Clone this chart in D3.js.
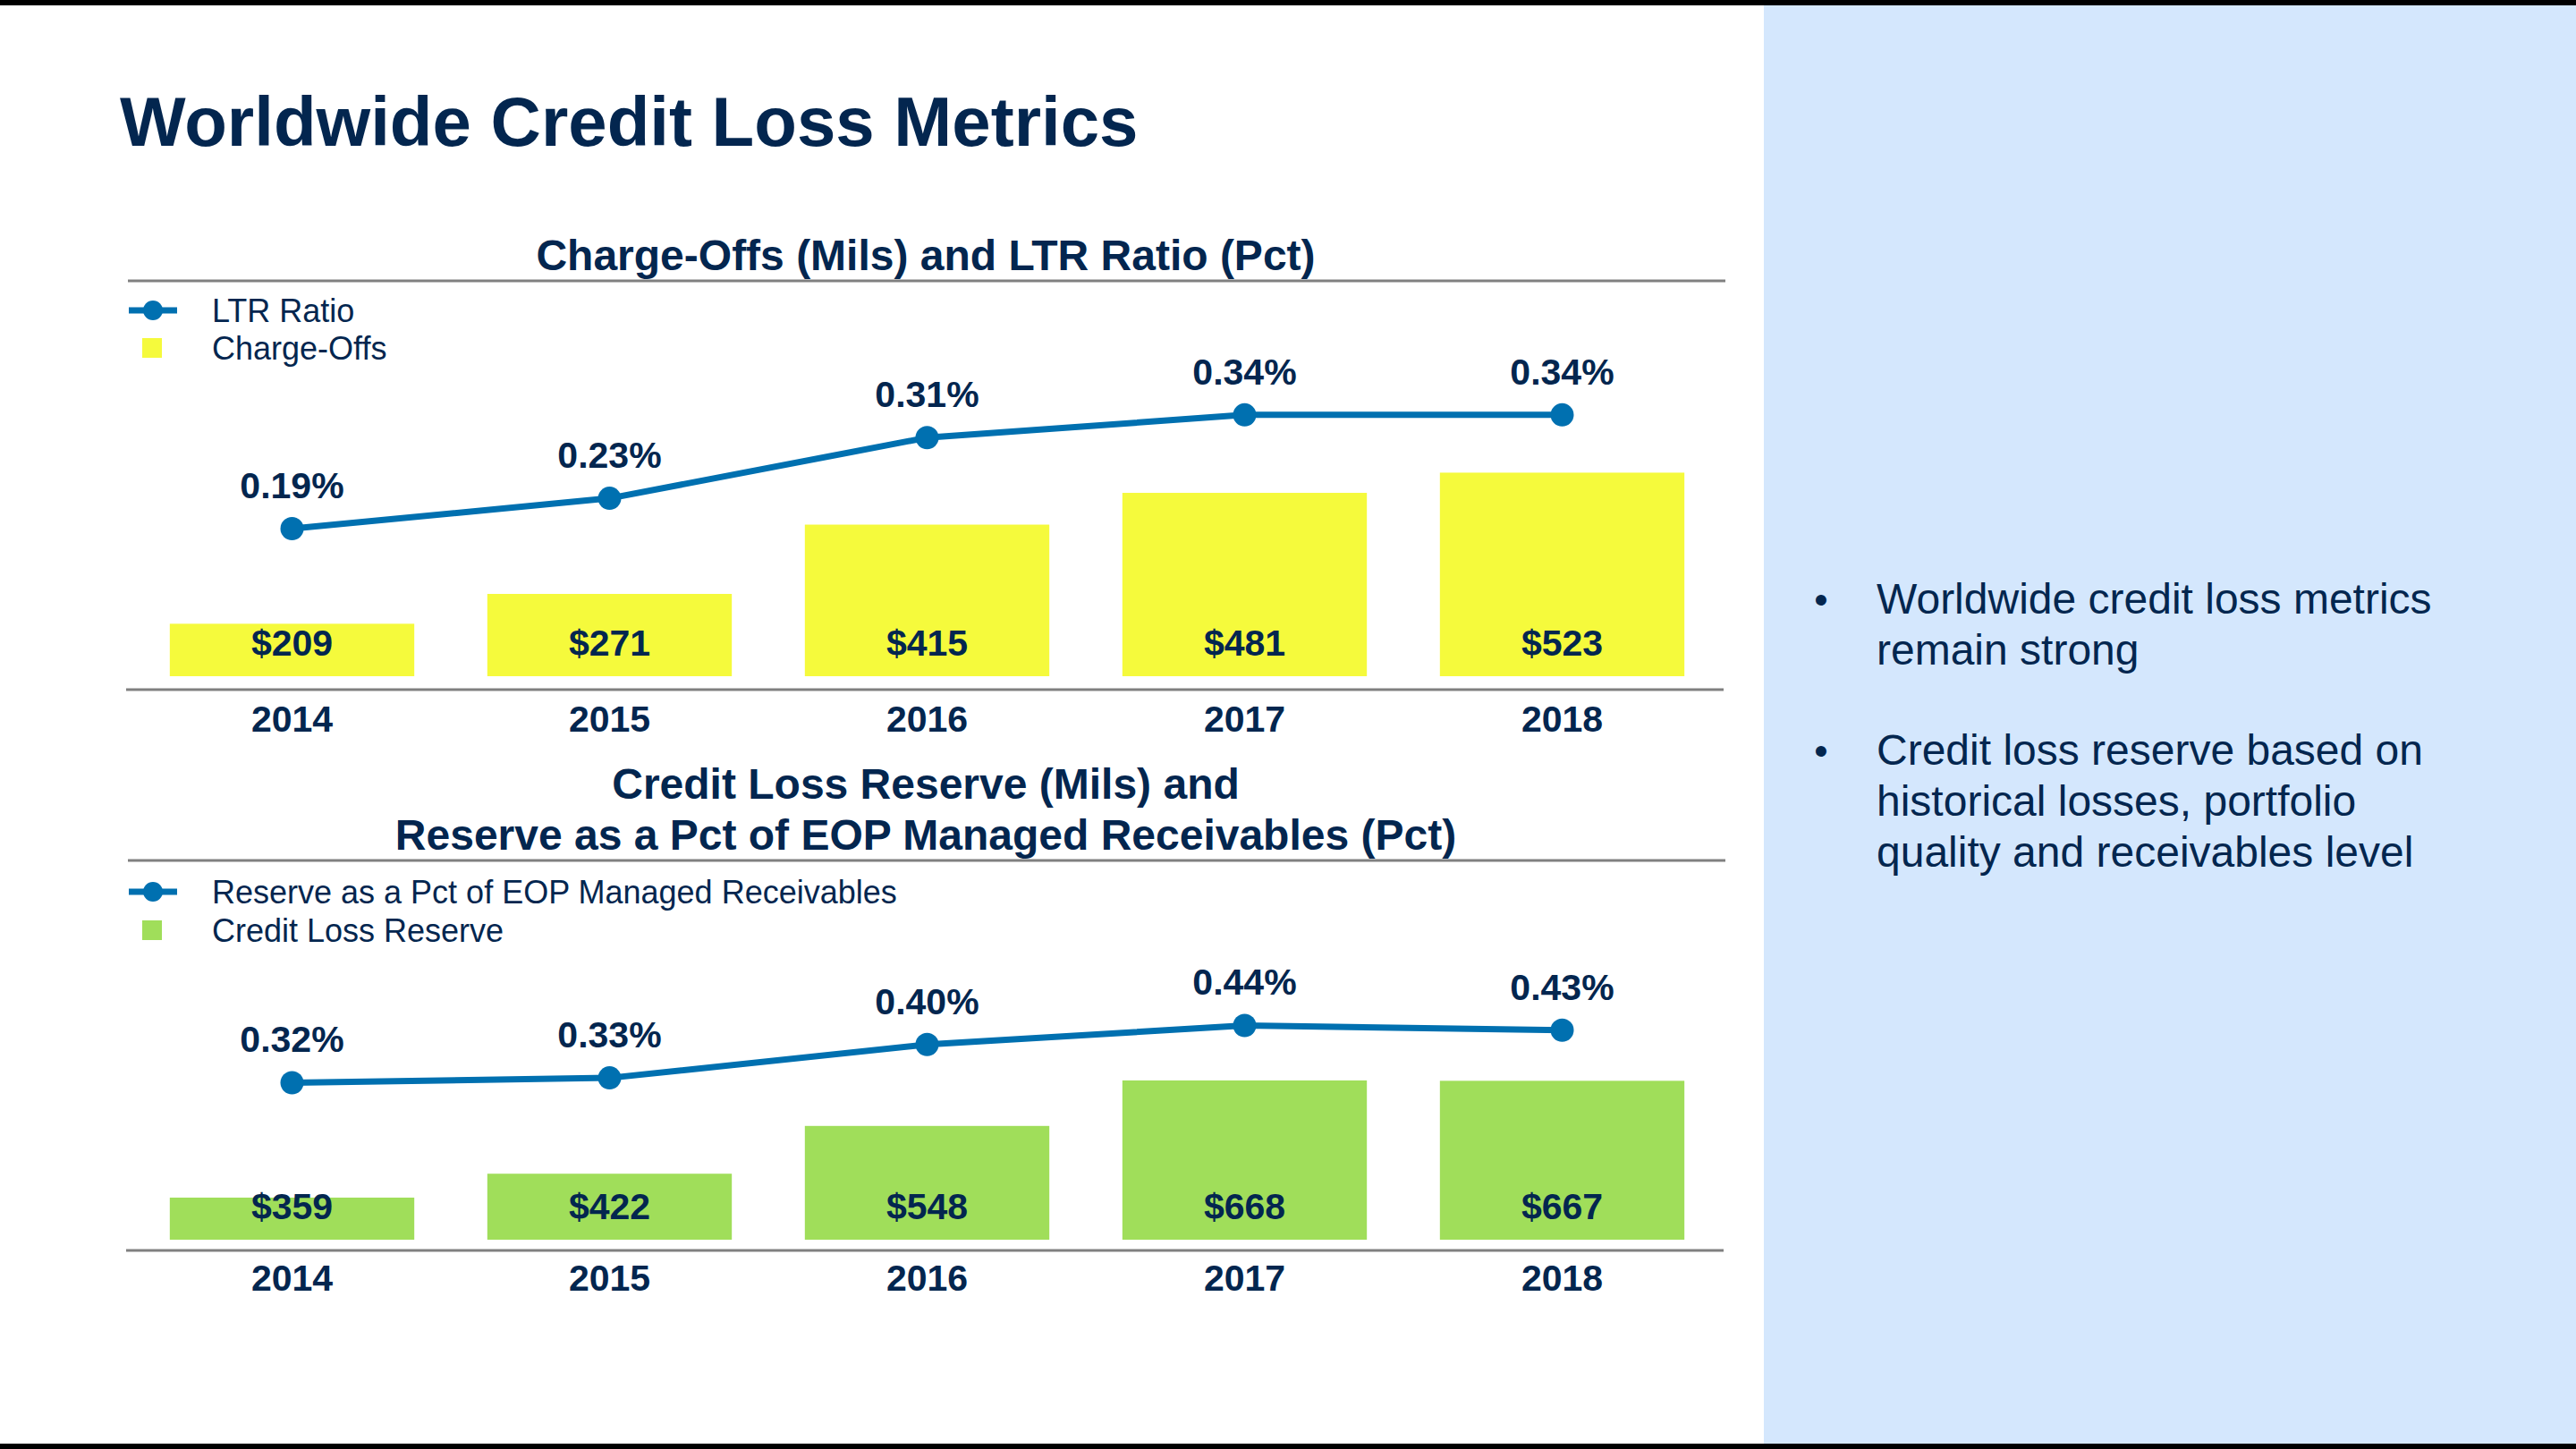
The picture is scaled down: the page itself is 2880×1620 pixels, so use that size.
<!DOCTYPE html>
<html>
<head>
<meta charset="utf-8">
<script src="https://cdn.jsdelivr.net/npm/d3@7"></script>
<style>
  html, body { margin: 0; padding: 0; background: #ffffff; }
  svg { display: block; }
  text { font-family: "Liberation Sans", Arial, Helvetica, sans-serif; }
</style>
</head>
<body>
<svg id="chart" width="2880" height="1620"></svg>
<script>
// ---------- DATA ----------
const years = ["2014", "2015", "2016", "2017", "2018"];
const chargeOffs = [209, 271, 415, 481, 523];
const ltrRatio = [0.19, 0.23, 0.31, 0.34, 0.34];
const reserve = [359, 422, 548, 668, 667];
const reservePct = [0.32, 0.33, 0.40, 0.44, 0.43];

const mainTitle = "Worldwide Credit Loss Metrics";
const chart1Title = ["Charge-Offs (Mils) and LTR Ratio (Pct)"];
const chart2Title = ["Credit Loss Reserve (Mils) and", "Reserve as a Pct of EOP Managed Receivables (Pct)"];
const chart1Legend = ["LTR Ratio", "Charge-Offs"];
const chart2Legend = ["Reserve as a Pct of EOP Managed Receivables", "Credit Loss Reserve"];
const bullets = [
  ["Worldwide credit loss metrics", "remain strong"],
  ["Credit loss reserve based on", "historical losses, portfolio", "quality and receivables level"]
];

// ---------- STYLE ----------
const NAVY = "#03264f";
const BLUE = "#0070b0";
const GRAY = "#808080";
const YELLOW = "#f5fa3c";
const GREEN = "#a0de5a";
const PANEL = "#d4e7fd";

const svg = d3.select("#chart");

// background + right panel + black bars
svg.append("rect").attr("x", 0).attr("y", 0).attr("width", 2880).attr("height", 1620).attr("fill", "#ffffff");
svg.append("rect").attr("x", 1972).attr("y", 0).attr("width", 908).attr("height", 1620).attr("fill", PANEL);
svg.append("rect").attr("x", 0).attr("y", 0).attr("width", 2880).attr("height", 6).attr("fill", "#000");
svg.append("rect").attr("x", 0).attr("y", 1614).attr("width", 2880).attr("height", 6).attr("fill", "#000");

// main title
svg.append("text")
  .attr("x", 134).attr("y", 163)
  .attr("font-size", 78).attr("font-weight", "bold").attr("fill", NAVY)
  .text(mainTitle);

// x band scale shared
const x = d3.scaleBand().domain(years).range([149, 1924]).paddingInner(0.23).paddingOuter(0.115);

function drawChart(cfg) {
  const g = svg.append("g");

  // title lines
  cfg.title.forEach((t, i) => {
    g.append("text")
      .attr("x", 1035).attr("y", cfg.titleBaselines[i])
      .attr("text-anchor", "middle")
      .attr("font-size", 48).attr("font-weight", "bold").attr("fill", NAVY)
      .text(t);
  });

  // separator line
  g.append("line")
    .attr("x1", 143).attr("x2", 1929)
    .attr("y1", cfg.sepY).attr("y2", cfg.sepY)
    .attr("stroke", GRAY).attr("stroke-width", 3);

  // legend
  const ly1 = cfg.legendY[0], ly2 = cfg.legendY[1];
  g.append("line").attr("x1", 144).attr("x2", 198).attr("y1", ly1).attr("y2", ly1)
    .attr("stroke", BLUE).attr("stroke-width", 7);
  g.append("circle").attr("cx", 171).attr("cy", ly1).attr("r", 11).attr("fill", BLUE);
  g.append("rect").attr("x", 159).attr("y", ly2 - 11).attr("width", 22).attr("height", 22).attr("fill", cfg.barColor);
  cfg.legend.forEach((t, i) => {
    g.append("text")
      .attr("x", 237).attr("y", cfg.legendY[i] + 12.5)
      .attr("font-size", 36).attr("fill", NAVY)
      .text(t);
  });

  // scales
  const yBar = d3.scaleLinear().domain(cfg.barDomain).range([cfg.barBase, cfg.barTop]);
  const yLine = d3.scaleLinear().domain(cfg.lineDomain).range(cfg.lineRange);

  const barData = years.map((yr, i) => ({ yr, v: cfg.bars[i] }));
  const lineData = years.map((yr, i) => ({ yr, v: cfg.line[i] }));

  g.selectAll(".bar").data(barData).enter().append("rect")
    .attr("x", d => x(d.yr))
    .attr("width", x.bandwidth())
    .attr("y", d => yBar(d.v))
    .attr("height", d => cfg.barBase - yBar(d.v))
    .attr("fill", cfg.barColor);

  g.selectAll(".barlabel").data(barData).enter().append("text")
    .attr("x", d => x(d.yr) + x.bandwidth() / 2)
    .attr("y", cfg.barBase - 23.5)
    .attr("text-anchor", "middle")
    .attr("font-size", 41).attr("font-weight", "bold").attr("fill", NAVY)
    .text(d => "$" + d.v);

  // axis line
  g.append("line")
    .attr("x1", 141).attr("x2", 1927)
    .attr("y1", cfg.axisY).attr("y2", cfg.axisY)
    .attr("stroke", GRAY).attr("stroke-width", 3);

  // year labels via d3 axis
  const axis = d3.axisBottom(x).tickSize(0).tickPadding(0);
  const ag = g.append("g").attr("transform", `translate(0,${cfg.axisY})`).call(axis);
  ag.select(".domain").remove();
  ag.selectAll("text")
    .attr("y", cfg.yearOffset).attr("dy", null)
    .attr("font-size", 41).attr("font-weight", "bold").attr("fill", NAVY)
    .attr("font-family", "'Liberation Sans', Arial, sans-serif");

  // line
  const line = d3.line().x(d => x(d.yr) + x.bandwidth() / 2).y(d => yLine(d.v));
  g.append("path").datum(lineData)
    .attr("d", line).attr("fill", "none")
    .attr("stroke", BLUE).attr("stroke-width", 7).attr("stroke-linejoin", "round");
  g.selectAll(".dot").data(lineData).enter().append("circle")
    .attr("cx", d => x(d.yr) + x.bandwidth() / 2)
    .attr("cy", d => yLine(d.v))
    .attr("r", 13).attr("fill", BLUE);
  g.selectAll(".linelabel").data(lineData).enter().append("text")
    .attr("x", d => x(d.yr) + x.bandwidth() / 2)
    .attr("y", d => yLine(d.v) - 34)
    .attr("text-anchor", "middle")
    .attr("font-size", 41).attr("font-weight", "bold").attr("fill", NAVY)
    .text(d => d3.format(".2f")(d.v) + "%");
}

drawChart({
  title: chart1Title, titleBaselines: [302],
  sepY: 314, legend: chart1Legend, legendY: [347, 389],
  bars: chargeOffs, barColor: YELLOW,
  barDomain: [100, 600], barBase: 756, barTop: 487,
  line: ltrRatio, lineDomain: [0, 0.4], lineRange: [752, 413],
  axisY: 771, yearOffset: 47
});

drawChart({
  title: chart2Title, titleBaselines: [893, 950],
  sepY: 962, legend: chart2Legend, legendY: [997, 1040],
  bars: reserve, barColor: GREEN,
  barDomain: [248, 748], barBase: 1386, barTop: 1174,
  line: reservePct, lineDomain: [0, 0.5], lineRange: [1381, 1114.5],
  axisY: 1398, yearOffset: 45
});

// bullets
const bulletStarts = [686, 855];
bullets.forEach((lines, bi) => {
  svg.append("text")
    .attr("x", 2036).attr("y", bulletStarts[bi])
    .attr("text-anchor", "middle")
    .attr("font-size", 44).attr("fill", NAVY)
    .text("\u2022");
  lines.forEach((t, li) => {
    svg.append("text")
      .attr("x", 2098).attr("y", bulletStarts[bi] + li * 57)
      .attr("font-size", 48).attr("fill", NAVY)
      .text(t);
  });
});
</script>
</body>
</html>
